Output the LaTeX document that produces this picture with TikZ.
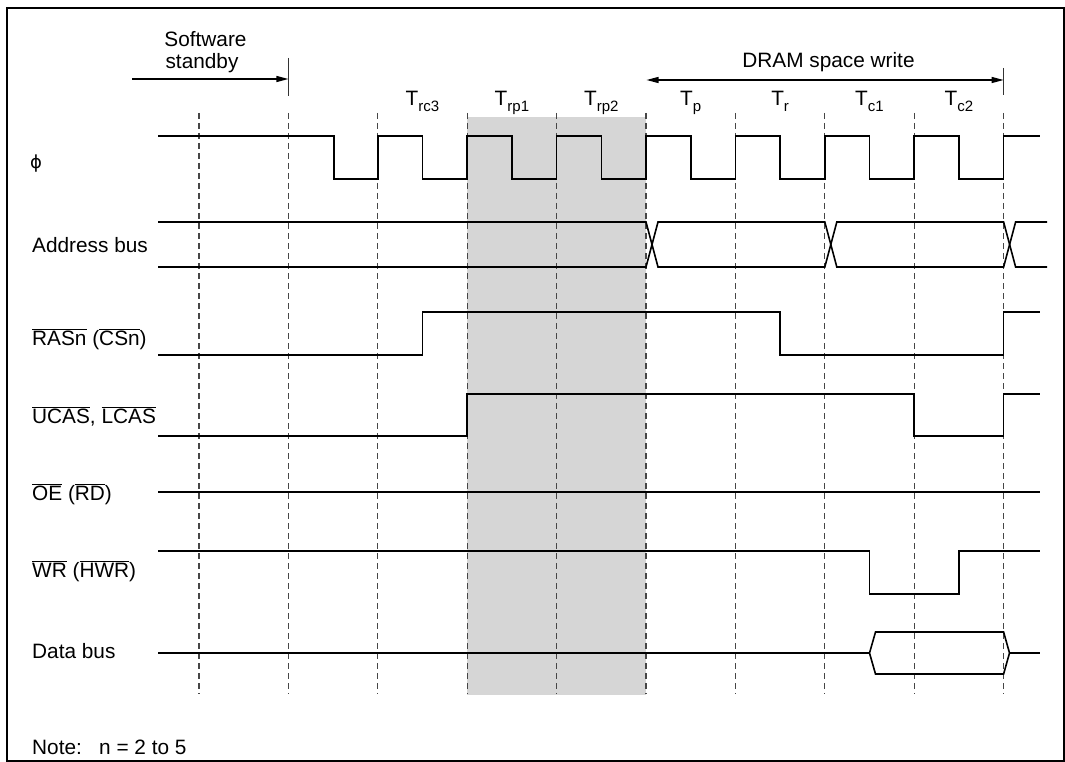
\documentclass[tikz,border=0pt]{standalone}
\usepackage{fontspec}
\setmainfont{Liberation Sans}
\newfontfamily\djv{DejaVu Sans}
\usetikzlibrary{arrows.meta}
\definecolor{shadegray}{RGB}{214,214,214}
\definecolor{dashc}{RGB}{70,70,70}
\newcommand\ovl[1]{$\overline{\mbox{#1}}$}
\newcommand\Tlab[1]{T\raisebox{-6pt}{\fontsize{15}{15}\selectfont #1}}
\begin{document}
\begin{tikzpicture}[x=1pt,y=-1pt,
  lbl/.style={font=\fontsize{20.8}{25}\selectfont, inner sep=0pt, anchor=base west},
  tlab/.style={font=\fontsize{20.8}{25}\selectfont, inner sep=0pt, anchor=base},
  sig/.style={line width=1.6pt, line join=miter},
  gridline/.style={dashc, line width=1.1pt, dash pattern=on 6pt off 4pt},
  tickline/.style={line width=1.3pt, black!80},
  arr/.style={line width=1.3pt, -{Triangle[length=12pt,width=6pt]}},
  darr/.style={line width=1.3pt, {Triangle[length=12pt,width=6pt]}-{Triangle[length=12pt,width=6pt]}},
]
\useasboundingbox (0,0) rectangle (1065,762);
\fill[white] (0,0) rectangle (1065,762);
% shaded region
\fill[shadegray] (467.2,117) rectangle (646,695);
% dashed grid
\foreach \i in {0,...,9} { \draw[gridline] (199+89.4*\i,113) -- (199+89.4*\i,694); }
% frame
\draw[line width=2.4pt] (7,8) rectangle (1063.8,760.8);

% top annotations
\node[lbl, anchor=base] (sw1) at (205.5,46.7) {Software};
\node[lbl, anchor=base] (sw2) at (202,69) {standby};
\coordinate (swA) at (132,79);
\coordinate (swB) at (288.4,79);
\draw[arr] (swA) -- (swB);
\draw[tickline] (288.4,58) -- (288.4,96);

\node[tlab] (dram) at (828.5,68) {DRAM space write};
\coordinate (drA) at (646.5,80);
\coordinate (drB) at (1003.6,80);
\draw[darr] (drA) -- (drB);
\draw[tickline] (1003.6,68) -- (1003.6,95);

% T labels
\node[tlab] (trc3) at (422.5,106) {\Tlab{rc3}};
\node[tlab] (trp1) at (511.9,106) {\Tlab{rp1}};
\node[tlab] (trp2) at (601.3,106) {\Tlab{rp2}};
\node[tlab] (tp) at (690.7,106) {\Tlab{p}};
\node[tlab] (tr) at (780.1,106) {\Tlab{r}};
\node[tlab] (tc1) at (869.5,106) {\Tlab{c1}};
\node[tlab] (tc2) at (958.9,106) {\Tlab{c2}};

% signal labels
\node[lbl] (phi) at (30,169) {{\djv\fontsize{18}{20}\selectfont ϕ}};
\node[lbl] (addr) at (32,252) {Address bus};
\node[lbl] (ras) at (32,345) {\ovl{RASn} (\ovl{CSn})};
\node[lbl] (ucas) at (32,423) {\ovl{UCAS}, \ovl{LCAS}};
\node[lbl] (oe) at (32,500) {\ovl{OE} (\ovl{RD})};
\node[lbl] (wr) at (32,577) {\ovl{WR} (\ovl{HWR})};
\node[lbl] (data) at (32,658) {Data bus};
\node[lbl] (note) at (32,754) {Note:\hspace{17.3pt}n = 2 to 5};

% phi clock
\draw[sig] (158,136) -- (333.7,136) -- (333.7,179) -- (377.8,179) -- (377.8,136)
  -- (422.5,136) -- (422.5,179) -- (467.2,179) -- (467.2,136)
  -- (511.9,136) -- (511.9,179) -- (556.6,179) -- (556.6,136)
  -- (601.3,136) -- (601.3,179) -- (646,179) -- (646,136)
  -- (690.7,136) -- (690.7,179) -- (735.4,179) -- (735.4,136)
  -- (780.1,136) -- (780.1,179) -- (824.8,179) -- (824.8,136)
  -- (869.5,136) -- (869.5,179) -- (914.2,179) -- (914.2,136)
  -- (958.9,136) -- (958.9,179) -- (1003.6,179) -- (1003.6,136) -- (1040,136);

% address bus
\draw[sig] (158,222) -- (646,222) -- (658,267) -- (824.8,267) -- (836.8,222)
  -- (1003.6,222) -- (1015.6,267) -- (1047,267);
\draw[sig] (158,267) -- (646,267) -- (658,222) -- (824.8,222) -- (836.8,267)
  -- (1003.6,267) -- (1015.6,222) -- (1047,222);

% RAS
\draw[sig] (158,355) -- (422.5,355) -- (422.5,312) -- (780.1,312) -- (780.1,355)
  -- (1003.6,355) -- (1003.6,312) -- (1040,312);
% UCAS
\draw[sig] (158,436) -- (467.2,436) -- (467.2,394) -- (914.2,394) -- (914.2,436)
  -- (1003.6,436) -- (1003.6,394) -- (1040,394);
% OE
\draw[sig] (158,492) -- (1040,492);
% WR
\draw[sig] (158,551) -- (869.5,551) -- (869.5,594) -- (958.9,594) -- (958.9,551) -- (1040,551);
% Data bus
\draw[sig] (158,653) -- (869.5,653);
\draw[sig] (869.5,653) -- (875.5,632) -- (1003.6,632) -- (1009.5,653) -- (1003.6,674) -- (875.5,674) -- cycle;
\draw[sig] (1009.5,653) -- (1040,653);
\end{tikzpicture}
\end{document}
